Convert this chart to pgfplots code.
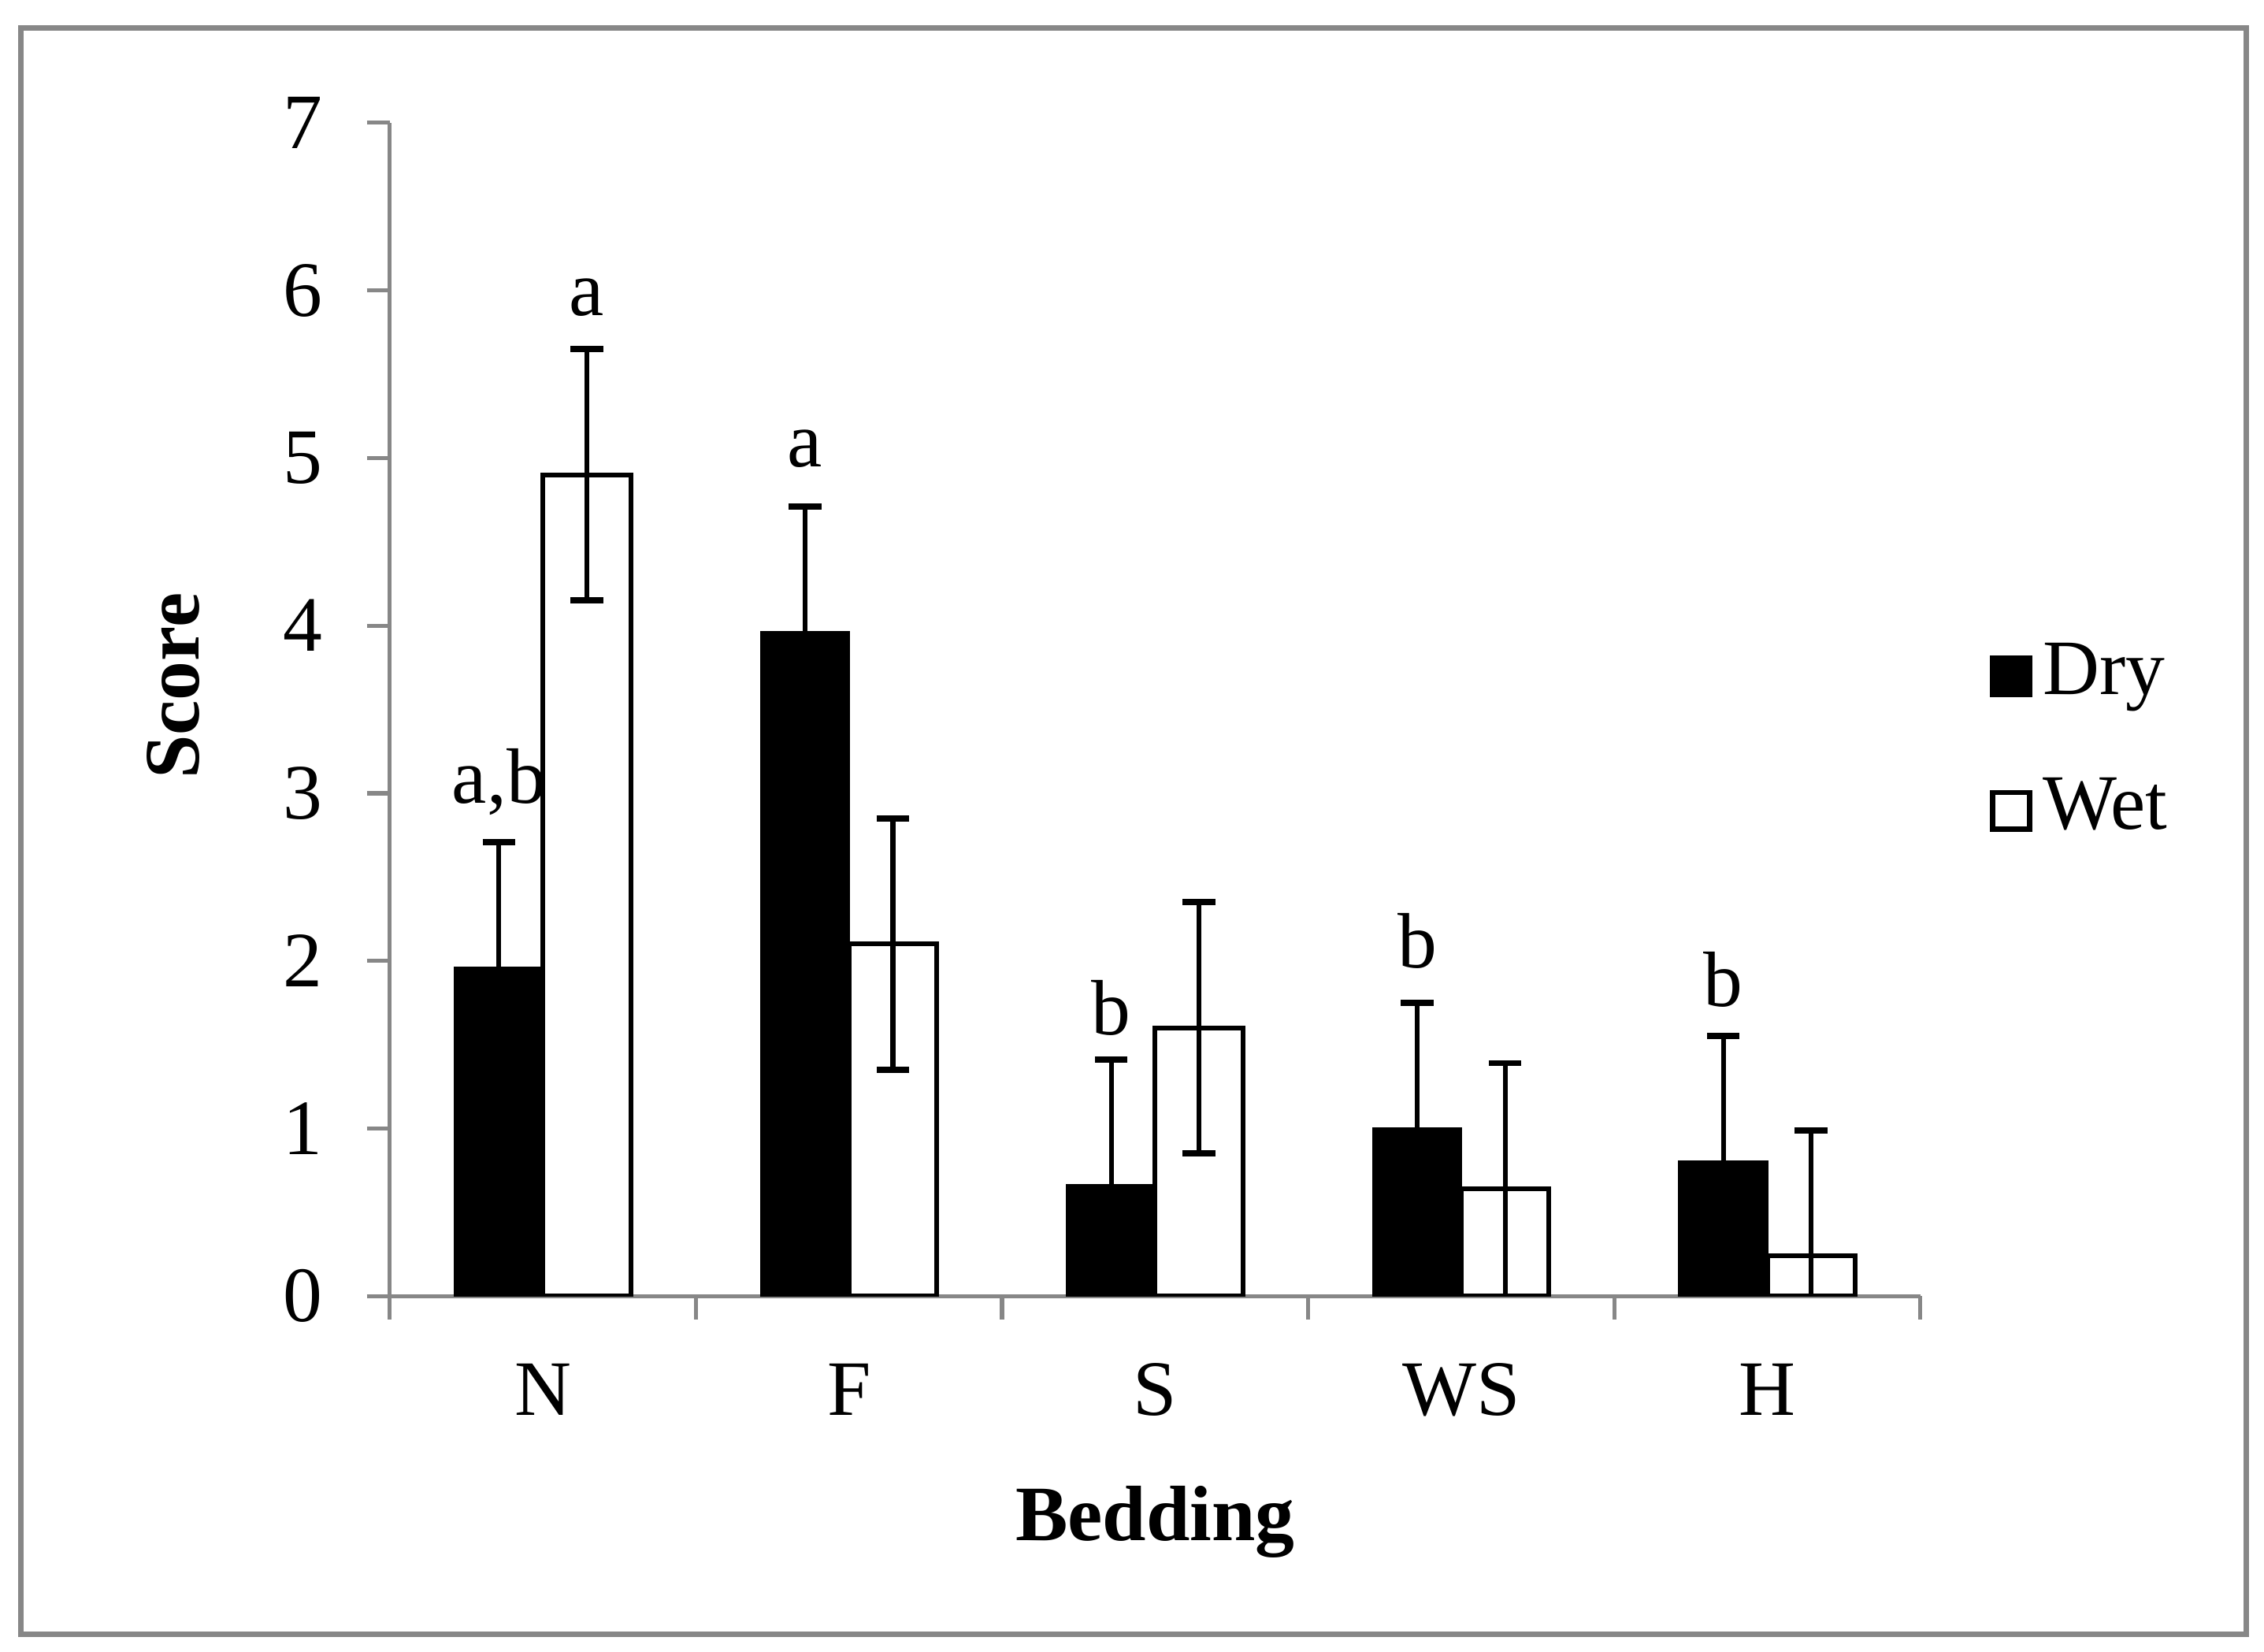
\documentclass[border=0pt]{standalone}
\usepackage{fontspec}
\setmainfont{Liberation Serif}
\usepackage{pgfplots}
\pgfplotsset{compat=1.18}
\definecolor{axgray}{RGB}{135,135,135}
\newcommand{\fsz}{\fontsize{16.3}{19.6}\selectfont}
\begin{document}
\begin{tikzpicture}
\useasboundingbox (0,0) rectangle (470.4pt,343.2pt);
\draw[axgray, line width=1.15pt] (4.35pt,3.66pt) rectangle (466.65pt,337.4pt);
\begin{axis}[
  at={(81pt,73.92pt)}, anchor=south west,
  scale only axis, width=318pt, height=243.78pt,
  xmin=0, xmax=5, ymin=0, ymax=7,
  axis x line*=bottom, axis y line*=left,
  axis line style={axgray, line width=0.85pt, -},
  every tick/.style={axgray, line width=0.85pt},
  tick align=outside, major tick length=4.8pt,
  ytick={0,1,...,7},
  xtick={0,1,...,5}, xticklabels={},
  extra x ticks={0.5,1.5,2.5,3.5,4.5},
  extra x tick labels={N,F,S,WS,H},
  extra x tick style={major tick length=0pt},
  /pgf/number format/assume math mode=true,
  ticklabel style={font=\fsz},
  xticklabel style={yshift=-10.5pt},
  yticklabel style={xshift=-5.6pt},
  xlabel={Bedding}, ylabel={Score},
  label style={font=\fsz\bfseries},
  xlabel style={at={(axis description cs:0.5,-0.2085)}, anchor=base},
  ylabel style={at={(axis description cs:-0.1415,0.52)}, anchor=center},
  ybar, bar width=0.287, bar shift=0pt,
  legend image code/.code={\draw[#1, line width=1.1pt] (0pt,-3.8pt) rectangle (7.6pt,3.8pt);},
  legend style={at={(axis description cs:1.045,0.471)}, anchor=west, draw=none, fill=none,
    inner sep=0pt, row sep=10.5pt, font=\fsz,
    nodes={inner sep=1.5pt, text height=11pt, text depth=3.5pt},
    /tikz/every odd column/.style={column sep=0.8pt}},
  legend cell align=left,
  error bars/y dir=both, error bars/y explicit,
  error bars/error bar style={black, line width=1pt},
  error bars/error mark options={rotate=90, mark size=3.4pt, line width=1.3pt, black},
]
\addplot[fill=black, draw=black, line width=0.5pt, error bars/y dir=plus] coordinates {
  (0.3565,1.96) +- (0,0.75)
  (1.3565,3.96) +- (0,0.75)
  (2.3565,0.66) +- (0,0.75)
  (3.3565,1.00) +- (0,0.75)
  (4.3565,0.80) +- (0,0.75)
};
\addlegendentry{Dry}
\addplot[fill=white, draw=black, line width=1pt] coordinates {
  (0.6435,4.90) +- (0,0.75)
  (1.6435,2.10) +- (0,0.75)
  (2.6435,1.60) +- (0,0.75)
  (3.6435,0.64) +- (0,0.75)
  (4.6435,0.24) +- (0,0.75)
};
\addlegendentry{Wet}
\node[anchor=base, font=\fsz] at (axis cs:0.3565,2.94) {a,b};
\node[anchor=base, font=\fsz] at (axis cs:0.6435,5.85) {a};
\node[anchor=base, font=\fsz] at (axis cs:1.3565,4.95) {a};
\node[anchor=base, font=\fsz] at (axis cs:2.3565,1.56) {b};
\node[anchor=base, font=\fsz] at (axis cs:3.3565,1.96) {b};
\node[anchor=base, font=\fsz] at (axis cs:4.3565,1.73) {b};
\end{axis}
\end{tikzpicture}
\end{document}
